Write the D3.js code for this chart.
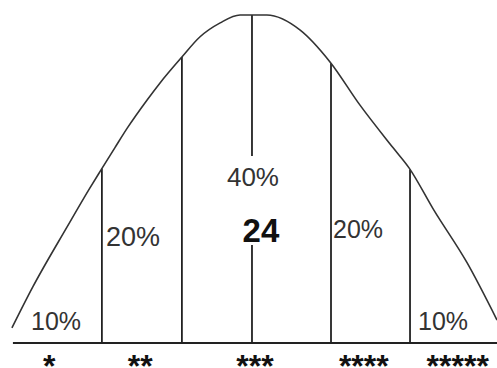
<!DOCTYPE html>
<html>
<meta charset="utf-8">
<title>Bell curve grading</title>
<style>
  body { margin: 0; background: #fff; }
  svg { display: block; }
  text { font-family: Arial, "Liberation Sans", sans-serif; fill: #333; }
  .curve { fill: none; stroke: #333; stroke-width: 1.6px; }
  .divider { stroke: #222; stroke-width: 1.8px; }
  .base { stroke: #222; stroke-width: 2px; }
</style>
<body>
<div id="chart"></div>
<script src="https://cdnjs.cloudflare.com/ajax/libs/d3/7.8.5/d3.min.js"></script>
<script>

// curve: position 0-100 across, height 0-100
const curveX = [2.4, 6.6, 13.5, 18.1, 20.3, 23.1, 25.6, 29.6, 32.2, 36.6, 40.2, 44.3, 48.3, 53.7, 60.4, 66.4, 72.4, 79.1, 82.3, 87.3, 94.0, 100];
const curveY = [4.6, 17.1, 35.4, 47.3, 52.7, 59.5, 65.5, 74.1, 79.3, 87.2, 93.3, 97.6, 100, 100, 95.4, 85.7, 72.6, 59.5, 53.4, 40.5, 24.4, 7.0];

// where the vertical lines stand
const dividers = [20.5, 36.6, 50.7, 66.6, 82.5];

const shares = ['10%', '20%', '40%', '20%', '10%'];
const grades = ['*', '**', '***', '****', '*****'];
const gradeAt = [9.9, 28.2, 51.3, 73.2, 92.1];
const mean = '24';

const width = 497, height = 368;

const x = d3.scaleLinear().domain([0, 100]).range([0, 497]);
const y = d3.scaleLinear().domain([0, 100]).range([343, 15]);

const svg = d3.select('#chart').append('svg')
  .attr('width', width)
  .attr('height', height);

const pts = curveX.map((d, i) => [d, curveY[i]]);

// height of curve at a position (linear between read points)
function curveAt(v) {
  const i = d3.bisector(d => d[0]).right(pts, v);
  const a = pts[Math.max(0, i - 1)], b = pts[Math.min(pts.length - 1, i)];
  if (a === b) return a[1];
  const t = (v - a[0]) / (b[0] - a[0]);
  return a[1] + t * (b[1] - a[1]);
}

svg.append('line')
  .attr('class', 'base')
  .attr('x1', x(2.6)).attr('x2', x(100))
  .attr('y1', y(0)).attr('y2', y(0));

svg.selectAll('.divider')
  .data(dividers)
  .enter().append('line')
  .attr('class', 'divider')
  .attr('x1', d => x(d)).attr('x2', d => x(d))
  .attr('y1', y(0))
  .attr('y2', d => y(curveAt(d)));

svg.append('path')
  .datum(pts)
  .attr('class', 'curve')
  .attr('d', d3.line().x(d => x(d[0])).y(d => y(d[1])).curve(d3.curveMonotoneX));

// white gap behind the middle texts
const mid = x(dividers[2]);
svg.append('rect')
  .attr('x', mid - 30).attr('width', 60)
  .attr('y', 156).attr('height', 89)
  .attr('fill', '#fff');

// percentage labels
const lbl = [
  {x: x(0) + 31, y: 330, size: 25, anchor: 'start'},
  {x: x(dividers[0]) + 4, y: 246, size: 27, anchor: 'start'},
  {x: mid + 1, y: 186, size: 26, anchor: 'middle'},
  {x: x(dividers[3]) + 2, y: 238, size: 25, anchor: 'start'},
  {x: x(dividers[4]) + 8, y: 330, size: 25, anchor: 'start'}
];

svg.selectAll('.share')
  .data(shares)
  .enter().append('text')
  .attr('class', 'share')
  .attr('x', (d, i) => lbl[i].x)
  .attr('y', (d, i) => lbl[i].y)
  .attr('text-anchor', (d, i) => lbl[i].anchor)
  .style('font-size', (d, i) => lbl[i].size + 'px')
  .text(d => d);

svg.append('text')
  .attr('x', mid + 9)
  .attr('y', 242)
  .attr('text-anchor', 'middle')
  .style('font-size', '33px')
  .style('font-weight', 'bold')
  .style('fill', '#111')
  .text(mean);

svg.selectAll('.grade')
  .data(grades)
  .enter().append('text')
  .attr('class', 'grade')
  .attr('x', (d, i) => x(gradeAt[i]))
  .attr('y', 377)
  .attr('text-anchor', 'middle')
  .style('font-size', '32px')
  .style('font-weight', 'bold')
  .style('fill', '#111')
  .text(d => d);

</script>
</body>
</html>
